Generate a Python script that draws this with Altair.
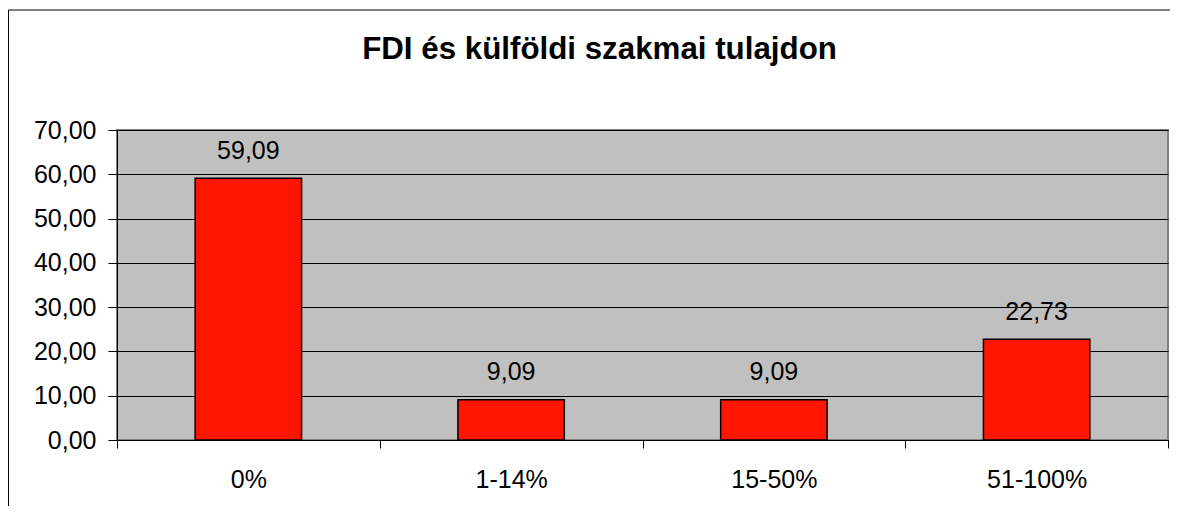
import altair as alt
import pandas as pd

categories = ["0%", "1-14%", "15-50%", "51-100%"]
values = [59.09, 9.09, 9.09, 22.73]
y_ticks = [0, 10, 20, 30, 40, 50, 60, 70]
title_text = "FDI és külföldi szakmai tulajdon"

df = pd.DataFrame({"cat": categories, "val": values})

FONT = "Arial, Liberation Sans, sans-serif"
HU_FMT = "replace(format(datum.value, '.2f'), '.', ',')"

x_enc = alt.X(
    "cat:N", sort=categories, title=None,
    scale=alt.Scale(paddingInner=0, paddingOuter=0),
    axis=alt.Axis(labelAngle=0, tickBand="extent", ticks=True, tickSize=8,
                  tickColor="black", tickWidth=1, domainColor="black", domainWidth=1,
                  labelFont=FONT, labelFontSize=25, labelColor="black",
                  labelPadding=19, grid=False),
)
y_enc = alt.Y(
    "val:Q", title=None,
    scale=alt.Scale(domain=[0, 70], nice=False),
    axis=alt.Axis(values=y_ticks, labelExpr=HU_FMT, tickSize=9, tickColor="black",
                  tickWidth=1, domainColor="black", domainWidth=1,
                  labelFont=FONT, labelFontSize=25, labelColor="black",
                  labelPadding=12, grid=True, gridColor="black", gridWidth=1,
                  gridOpacity=1),
)

base = alt.Chart(df)

bars = base.mark_bar(
    width=alt.RelativeBandSize(0.405), color="#FF1500",
    stroke="black", strokeWidth=1.5,
).encode(x=x_enc, y=y_enc)

labels = base.transform_calculate(
    lbl="replace(format(datum.val, '.2f'), '.', ',')"
).mark_text(
    baseline="alphabetic", align="center", dy=-19.5,
    font=FONT, fontSize=25, color="black",
).encode(x=x_enc, y=y_enc, text="lbl:N")

title_mark = alt.Chart(alt.Data(values=[{"t": title_text}])).mark_text(
    align="center", baseline="alphabetic", font=FONT, fontSize=31.3,
    fontWeight="bold", color="black",
).encode(x=alt.value(482.5), y=alt.value(-71), text="t:N")

frame_data = alt.Data(values=[{"f": 1}])
frame_left = alt.Chart(frame_data).mark_rule(color="black", strokeWidth=1).encode(
    x=alt.value(-108.5), y=alt.value(-120), y2=alt.value(520))
frame_top = alt.Chart(frame_data).mark_rule(color="black", strokeWidth=1).encode(
    y=alt.value(-120), x=alt.value(-108.5), x2=alt.value(1200))

chart = alt.layer(frame_left, frame_top, bars, labels, title_mark).properties(
    width=1051, height=310, autosize="none",
    padding={"left": 109, "top": 122, "right": 2, "bottom": 66},
    background="white",
).configure_view(fill="#C0C0C0", stroke="#808080", strokeWidth=2)

chart.save("out.html", embed_options={"renderer": "svg", "actions": False})
